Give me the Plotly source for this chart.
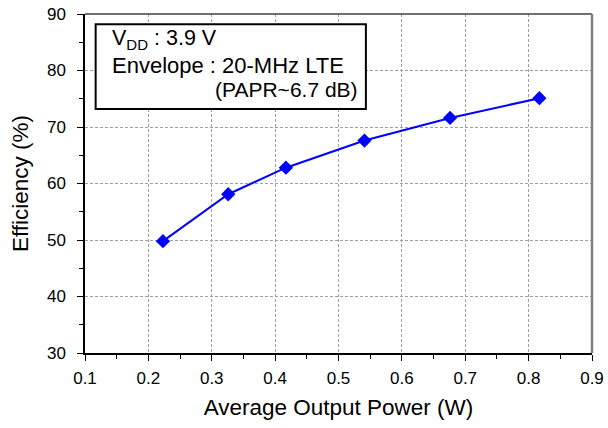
import plotly.graph_objects as go

power_w = [0.223, 0.326, 0.417, 0.541, 0.676, 0.817]
efficiency_pct = [49.8, 58.1, 62.8, 67.6, 71.6, 75.1]

x_ticks = [0.1, 0.2, 0.3, 0.4, 0.5, 0.6, 0.7, 0.8, 0.9]
y_ticks = [30, 40, 50, 60, 70, 80, 90]

FONT = "Liberation Sans, Arial, sans-serif"

fig = go.Figure()
fig.add_trace(go.Scatter(
    x=power_w, y=efficiency_pct, mode="lines+markers",
    line=dict(color="#0000ff", width=2),
    marker=dict(symbol="diamond", size=11, color="#0000ff"),
    showlegend=False,
))

axis_common = dict(
    showline=True, linecolor="black", linewidth=1.5,
    ticks="outside", ticklen=6, tickwidth=1, tickcolor="black",
    showgrid=True, gridcolor="#a0a0a0", griddash="3px,2px", gridwidth=1,
    zeroline=False, automargin=False,
    tickfont=dict(family=FONT, size=17, color="black"),
)

fig.update_xaxes(
    range=[0.1, 0.9], tickvals=x_ticks, ticktext=[f"{v:.1f}" for v in x_ticks],
    minor=dict(dtick=0.05, tick0=0.1, ticks="outside", ticklen=4, tickcolor="black", showgrid=False),
    title=dict(text="Average Output Power (W)", font=dict(family=FONT, size=22.5, color="black"), standoff=12),
    ticklabelstandoff=3,
    **axis_common,
)
fig.update_yaxes(
    range=[30, 90], tickvals=y_ticks,
    minor=dict(dtick=5, tick0=30, ticks="outside", ticklen=4, tickcolor="black", showgrid=False),
    title=dict(text="Efficiency (%)", font=dict(family=FONT, size=22.5, color="black"), standoff=12),
    ticklabelstandoff=8,
    **axis_common,
)

# plot frame: top dark line, right gray line
fig.add_shape(type="line", xref="paper", yref="paper", x0=0, x1=1, y0=1, y1=1,
              line=dict(color="#404040", width=1.5))
fig.add_shape(type="line", xref="paper", yref="paper", x0=1, x1=1, y0=0, y1=1,
              line=dict(color="#808080", width=2.5))

# annotation box
fig.add_shape(type="rect", xref="paper", yref="paper", x0=0.021, x1=0.554, y0=0.720, y1=0.970,
              line=dict(color="black", width=2), fillcolor="white", layer="above")

fig.add_annotation(xref="paper", yref="paper", x=0.049, y=0.925, xanchor="left", yanchor="middle",
                   text="V<sub>DD</sub> : 3.9 V", showarrow=False,
                   font=dict(family=FONT, size=21.5, color="black"))
fig.add_annotation(xref="paper", yref="paper", x=0.049, y=0.847, xanchor="left", yanchor="middle",
                   text="Envelope : 20-MHz LTE", showarrow=False,
                   font=dict(family=FONT, size=22, color="black"))
fig.add_annotation(xref="paper", yref="paper", x=0.252, y=0.777, xanchor="left", yanchor="middle",
                   text="(PAPR~6.7 dB)", showarrow=False,
                   font=dict(family=FONT, size=21, color="black"))

fig.update_layout(
    width=608, height=428,
    margin=dict(l=85, r=16, t=14, b=75),
    paper_bgcolor="white", plot_bgcolor="white",
    font=dict(family=FONT, color="black"),
)

fig.write_html("out.html")
